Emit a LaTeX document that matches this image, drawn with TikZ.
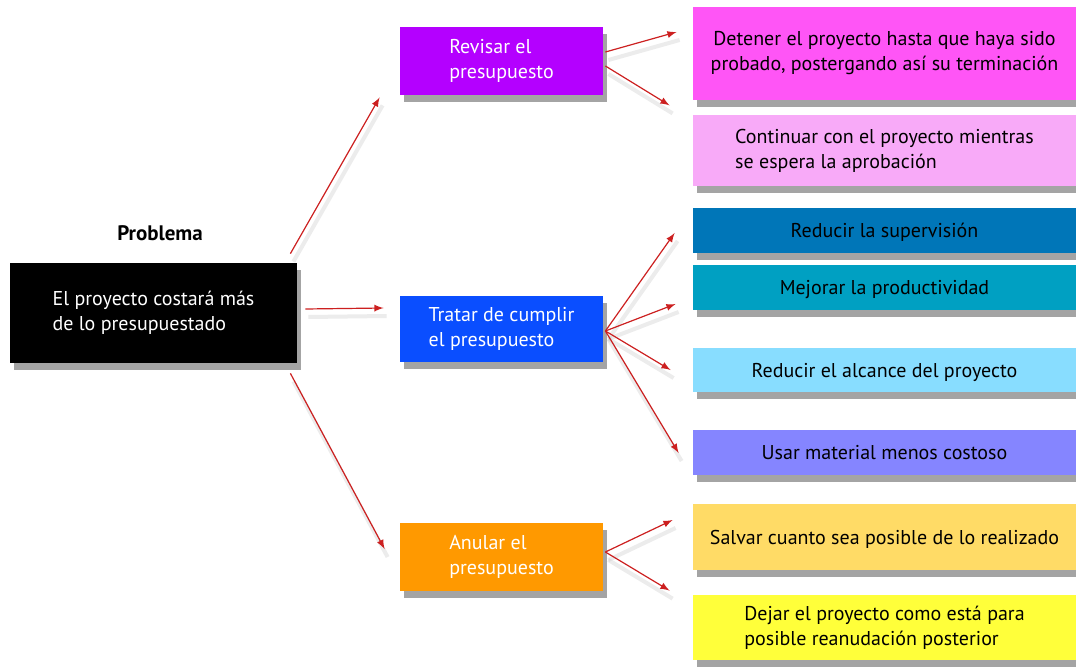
\documentclass[tikz,border=0pt]{standalone}
\usepackage{fontspec}
\setmainfont{PT Sans}
\usetikzlibrary{shadows}
\usetikzlibrary{calc}

\definecolor{revcol}{HTML}{B400FF}
\definecolor{tratcol}{HTML}{0A4EFF}
\definecolor{anulcol}{HTML}{FF9900}
\definecolor{detcol}{HTML}{FF55F6}
\definecolor{contcol}{HTML}{F8AAF8}
\definecolor{supcol}{HTML}{0076B8}
\definecolor{prodcol}{HTML}{00A0C2}
\definecolor{alccol}{HTML}{88DDFF}
\definecolor{usarcol}{HTML}{8585FF}
\definecolor{salvcol}{HTML}{FFDB66}
\definecolor{dejcol}{HTML}{FFFF3A}
\definecolor{arrcol}{HTML}{CC2020}

\begin{document}
\begin{tikzpicture}[x=0.5pt,y=-0.5pt,
    box/.style={inner sep=0pt, align=left, font=\fontsize{10}{12.5}\selectfont,
        drop shadow={shadow xshift=2pt, shadow yshift=-3.5pt, fill=black!65, opacity=0.55}},
    midbox/.style={box, text=white, minimum width=101.5pt, minimum height=34pt},
    optbox/.style={box, text=black, minimum width=191.5pt},
    arr/.style={-latex, arrcol, semithick,
        preaction={draw, black!25, opacity=0.3, line width=2pt, -, transform canvas={shift={(1.5pt,-4pt)}}}}]

    % Margins
    \useasboundingbox (0,0) rectangle (1076,668);

    % Problem
    \node[box, fill=black, text=white, minimum width=143.5pt, minimum height=50pt] (prob) at (153.5,313)
        {El proyecto costará más\\de lo presupuestado};
    \node[font=\fontsize{10.5}{12.5}\selectfont\bfseries] (titulo) at (160,233) {Problema};

    % Middle level
    \node[midbox, fill=revcol] (rev) at (501.5,61) {Revisar el\\presupuesto};
    \node[midbox, fill=tratcol, minimum height=33pt] (trat) at (501.5,329) {Tratar de cumplir\\el presupuesto};
    \node[midbox, fill=anulcol] (anul) at (501.5,557) {Anular el\\presupuesto};

    % Options
    \node[optbox, fill=detcol, minimum height=46.5pt, align=center] (det) at (884.5,53.5)
        {Detener el proyecto hasta que haya sido\\probado, postergando así su terminación};
    \node[optbox, fill=contcol, minimum height=35.5pt] (cont) at (884.5,150.5)
        {Continuar con el proyecto mientras\\se espera la aprobación};
    \node[optbox, fill=supcol, minimum height=22.5pt, text depth=0pt] (sup) at (884.5,230.5) {Reducir la supervisión};
    \node[optbox, fill=prodcol, minimum height=22.5pt, text depth=0pt] (prod) at (884.5,287.5) {Mejorar la productividad};
    \node[optbox, fill=alccol, minimum height=22pt, text depth=0pt] (alc) at (884.5,370) {Reducir el alcance del proyecto};
    \node[optbox, fill=usarcol, minimum height=22.5pt, text depth=0pt] (usar) at (884.5,452.5) {Usar material menos costoso};
    \node[optbox, fill=salvcol, minimum height=33pt, text depth=0pt] (salv) at (884.5,537) {Salvar cuanto sea posible de lo realizado};
    \node[optbox, fill=dejcol, minimum height=32.5pt] (dej) at (884.5,627.5)
        {Dejar el proyecto como está para\\posible reanudación posterior};

    % Arrows from the problem
    \draw[arr] ($(prob.north east)+(-7,-9)$) -- ($(rev.south west)+(-20,2)$);
    \draw[arr] ($(prob.east)+(8,-4)$) -- ($(trat.west)+(-16,-21)$);
    \draw[arr] ($(prob.south east)+(-7,10)$) -- ($(anul.west)+(-15,-8)$);

    % Arrows from the middle level
    \draw[arr] ($(rev.east)+(2,-9)$) -- ($(det.west)+(-16,-21.5)$);
    \draw[arr] ($(rev.east)+(2,5)$) -- ($(det.south west)+(-23,5)$);
    \foreach \dst/\dx/\dy in {sup/-18/2.5, prod/-17/16.5, alc/-22/0, usar/-14/0.5}
        \draw[arr] ($(trat.east)+(2,2)$) -- ($(\dst.west)+(\dx,\dy)$);
    \draw[arr] ($(anul.east)+(2,-5)$) -- ($(salv.west)+(-20,-17)$);
    \draw[arr] ($(anul.east)+(2,-5)$) -- ($(dej.north west)+(-23,-4)$);

\end{tikzpicture}
\end{document}
